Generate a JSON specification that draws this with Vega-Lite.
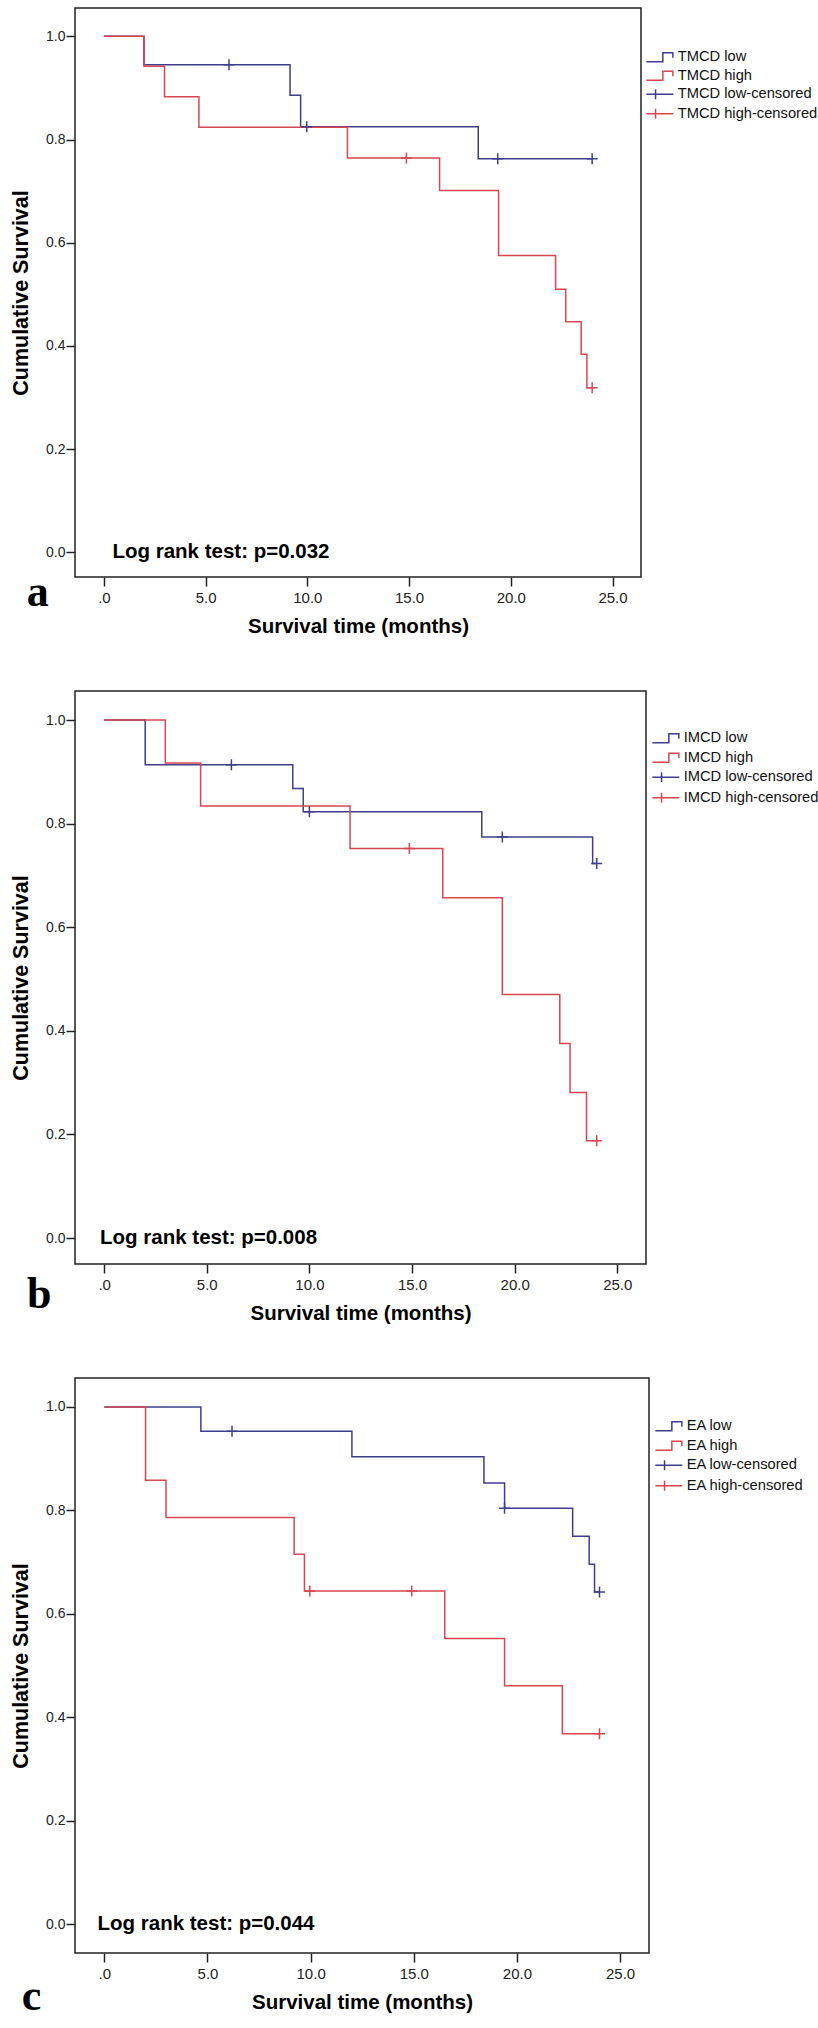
{
  "$schema": "https://vega.github.io/schema/vega-lite/v6.json",
  "background": "white",
  "padding": {"left": 9, "top": 7, "right": 0, "bottom": 0},
  "spacing": 52,
  "align": "each",
  "resolve": {"scale": {"color": "independent"}, "legend": {"color": "independent"}},
  "config": {
    "view": {"stroke": "#222", "strokeWidth": 1.5},
    "axis": {"grid": false, "domain": false, "tickSize": 9, "tickWidth": 1.5, "tickColor": "#222", "labelFont": "Liberation Sans", "labelColor": "#222", "titleFont": "Liberation Sans", "titleFontWeight": "bold", "titleColor": "#000"},
    "axisX": {"labelFontSize": 15, "labelPadding": 4, "titleFontSize": 20.5, "titlePadding": 11},
    "axisY": {"labelFontSize": 14, "labelPadding": 1, "titleFontSize": 21.5, "titlePadding": 13},
    "legend": {"title": null, "orient": "none", "symbolSize": 100, "symbolStrokeWidth": 1.5, "labelFont": "Liberation Sans", "labelFontSize": 14.7, "labelColor": "#111", "labelOffset": 19, "rowPadding": 3.5, "padding": 0}
  },
  "vconcat": [
    {
      "width": 566, "height": 569,
      "data": {"values": [
        {"series": "TMCD low", "t": 0, "s": 1},
        {"series": "TMCD low", "t": 1.97, "s": 0.945},
        {"series": "TMCD low", "t": 9.15, "s": 0.886},
        {"series": "TMCD low", "t": 9.67, "s": 0.825},
        {"series": "TMCD low", "t": 18.4, "s": 0.763},
        {"series": "TMCD low", "t": 24.0, "s": 0.763},
        {"series": "TMCD high", "t": 0, "s": 1},
        {"series": "TMCD high", "t": 1.97, "s": 0.942},
        {"series": "TMCD high", "t": 2.98, "s": 0.883},
        {"series": "TMCD high", "t": 4.67, "s": 0.824},
        {"series": "TMCD high", "t": 11.97, "s": 0.764},
        {"series": "TMCD high", "t": 16.5, "s": 0.701},
        {"series": "TMCD high", "t": 19.4, "s": 0.575},
        {"series": "TMCD high", "t": 22.2, "s": 0.510},
        {"series": "TMCD high", "t": 22.7, "s": 0.447},
        {"series": "TMCD high", "t": 23.46, "s": 0.384},
        {"series": "TMCD high", "t": 23.74, "s": 0.319},
        {"series": "TMCD high", "t": 24.0, "s": 0.319},
        {"series": "TMCD low-censored", "t": 6.15, "s": 0.945},
        {"series": "TMCD low-censored", "t": 9.97, "s": 0.825},
        {"series": "TMCD low-censored", "t": 19.36, "s": 0.763},
        {"series": "TMCD low-censored", "t": 24.0, "s": 0.763},
        {"series": "TMCD high-censored", "t": 14.87, "s": 0.764},
        {"series": "TMCD high-censored", "t": 24.0, "s": 0.319}
      ]},
      "layer": [
        {"transform": [{"filter": "indexof(datum.series, 'censored') < 0"}],
          "mark": {"type": "line", "interpolate": "step-after", "strokeWidth": 1.5},
          "encoding": {
            "x": {"field": "t", "type": "quantitative", "scale": {"domain": [-1.42, 26.4], "nice": false, "zero": false},
              "axis": {"values": [0, 5, 10, 15, 20, 25], "labelExpr": "datum.value == 0 ? '.0' : format(datum.value, '.1f')"},
              "title": "Survival time (months)"},
            "y": {"field": "s", "type": "quantitative", "scale": {"domain": [-0.048, 1.055], "nice": false, "zero": false},
              "axis": {"values": [0, 0.2, 0.4, 0.6, 0.8, 1.0], "format": ".1f"},
              "title": "Cumulative Survival"},
            "color": {"field": "series", "type": "nominal",
              "scale": {"domain": ["TMCD low", "TMCD high", "TMCD low-censored", "TMCD high-censored"], "range": ["#3E3F8C", "#D8474F", "#3E3F8C", "#D8474F"]},
              "legend": {"legendX": 569, "legendY": 42, "rowPadding": 2.5,
                "encode": {"symbols": {"update": {"fill": {"value": "transparent"}, "shape": {"signal": "indexof(datum.value, 'censored') >= 0 ? 'M-1,0H4.4M0.84,-1V1' : 'M-1,0.9H2.3V-0.9H4.3V0.1'"}}}}}}
          }},
        {"transform": [{"filter": "indexof(datum.series, 'censored') >= 0"}],
          "mark": {"type": "point", "shape": "M-1,0H1M0,-1V1", "size": 121, "filled": false, "strokeWidth": 1.5, "opacity": 1},
          "encoding": {
            "x": {"field": "t", "type": "quantitative"},
            "y": {"field": "s", "type": "quantitative"},
            "color": {"field": "series", "type": "nominal"}
          }},
        {"data": {"values": [{"label": "Log rank test: p=0.032"}]},
          "mark": {"type": "text", "align": "left", "baseline": "middle", "font": "Liberation Sans", "fontWeight": "bold", "fontSize": 20.5, "fill": "#000"},
          "encoding": {"x": {"datum": 0.42, "type": "quantitative"}, "y": {"datum": 0, "type": "quantitative"}, "text": {"field": "label", "type": "nominal"}}},
        {"data": {"values": [{"label": "a"}]},
          "mark": {"type": "text", "align": "left", "baseline": "alphabetic", "font": "Liberation Serif", "fontWeight": "bold", "fontSize": 44, "fill": "#000"},
          "encoding": {"x": {"datum": -3.79, "type": "quantitative"}, "y": {"datum": -0.105, "type": "quantitative"}, "text": {"field": "label", "type": "nominal"}}}
      ]
    },
    {
      "width": 571, "height": 573,
      "data": {"values": [
        {"series": "IMCD low", "t": 0, "s": 1},
        {"series": "IMCD low", "t": 2.0, "s": 0.9135},
        {"series": "IMCD low", "t": 9.19, "s": 0.868},
        {"series": "IMCD low", "t": 9.7, "s": 0.823},
        {"series": "IMCD low", "t": 18.4, "s": 0.774},
        {"series": "IMCD low", "t": 23.8, "s": 0.723},
        {"series": "IMCD low", "t": 24.0, "s": 0.723},
        {"series": "IMCD high", "t": 0, "s": 1},
        {"series": "IMCD high", "t": 2.98, "s": 0.917},
        {"series": "IMCD high", "t": 4.7, "s": 0.834},
        {"series": "IMCD high", "t": 11.98, "s": 0.752},
        {"series": "IMCD high", "t": 16.5, "s": 0.657},
        {"series": "IMCD high", "t": 19.4, "s": 0.470},
        {"series": "IMCD high", "t": 22.2, "s": 0.3755},
        {"series": "IMCD high", "t": 22.7, "s": 0.281},
        {"series": "IMCD high", "t": 23.5, "s": 0.188},
        {"series": "IMCD high", "t": 24.0, "s": 0.188},
        {"series": "IMCD low-censored", "t": 6.2, "s": 0.9135},
        {"series": "IMCD low-censored", "t": 10.0, "s": 0.823},
        {"series": "IMCD low-censored", "t": 19.4, "s": 0.774},
        {"series": "IMCD low-censored", "t": 24.0, "s": 0.723},
        {"series": "IMCD high-censored", "t": 14.87, "s": 0.752},
        {"series": "IMCD high-censored", "t": 24.0, "s": 0.188}
      ]},
      "layer": [
        {"transform": [{"filter": "indexof(datum.series, 'censored') < 0"}],
          "mark": {"type": "line", "interpolate": "step-after", "strokeWidth": 1.5},
          "encoding": {
            "x": {"field": "t", "type": "quantitative", "scale": {"domain": [-1.42, 26.4], "nice": false, "zero": false},
              "axis": {"values": [0, 5, 10, 15, 20, 25], "labelExpr": "datum.value == 0 ? '.0' : format(datum.value, '.1f')"},
              "title": "Survival time (months)"},
            "y": {"field": "s", "type": "quantitative", "scale": {"domain": [-0.05, 1.056], "nice": false, "zero": false},
              "axis": {"values": [0, 0.2, 0.4, 0.6, 0.8, 1.0], "format": ".1f"},
              "title": "Cumulative Survival"},
            "color": {"field": "series", "type": "nominal",
              "scale": {"domain": ["IMCD low", "IMCD high", "IMCD low-censored", "IMCD high-censored"], "range": ["#3E3F8C", "#D8474F", "#3E3F8C", "#D8474F"]},
              "legend": {"legendX": 575, "legendY": 40,
                "encode": {"symbols": {"update": {"fill": {"value": "transparent"}, "shape": {"signal": "indexof(datum.value, 'censored') >= 0 ? 'M-1,0H4.4M0.84,-1V1' : 'M-1,0.9H2.3V-0.9H4.3V0.1'"}}}}}}
          }},
        {"transform": [{"filter": "indexof(datum.series, 'censored') >= 0"}],
          "mark": {"type": "point", "shape": "M-1,0H1M0,-1V1", "size": 121, "filled": false, "strokeWidth": 1.5, "opacity": 1},
          "encoding": {
            "x": {"field": "t", "type": "quantitative"},
            "y": {"field": "s", "type": "quantitative"},
            "color": {"field": "series", "type": "nominal"}
          }},
        {"data": {"values": [{"label": "Log rank test: p=0.008"}]},
          "mark": {"type": "text", "align": "left", "baseline": "middle", "font": "Liberation Sans", "fontWeight": "bold", "fontSize": 20.5, "fill": "#000"},
          "encoding": {"x": {"datum": -0.2, "type": "quantitative"}, "y": {"datum": 0, "type": "quantitative"}, "text": {"field": "label", "type": "nominal"}}},
        {"data": {"values": [{"label": "b"}]},
          "mark": {"type": "text", "align": "left", "baseline": "alphabetic", "font": "Liberation Serif", "fontWeight": "bold", "fontSize": 44, "fill": "#000"},
          "encoding": {"x": {"datum": -3.76, "type": "quantitative"}, "y": {"datum": -0.134, "type": "quantitative"}, "text": {"field": "label", "type": "nominal"}}}
      ]
    },
    {
      "width": 574, "height": 575,
      "data": {"values": [
        {"series": "EA low", "t": 0, "s": 1},
        {"series": "EA low", "t": 4.68, "s": 0.953},
        {"series": "EA low", "t": 12.0, "s": 0.9035},
        {"series": "EA low", "t": 18.4, "s": 0.853},
        {"series": "EA low", "t": 19.4, "s": 0.804},
        {"series": "EA low", "t": 22.7, "s": 0.750},
        {"series": "EA low", "t": 23.5, "s": 0.696},
        {"series": "EA low", "t": 23.76, "s": 0.642},
        {"series": "EA low", "t": 24.0, "s": 0.642},
        {"series": "EA high", "t": 0, "s": 1},
        {"series": "EA high", "t": 2.0, "s": 0.8585},
        {"series": "EA high", "t": 2.99, "s": 0.786},
        {"series": "EA high", "t": 9.2, "s": 0.715},
        {"series": "EA high", "t": 9.7, "s": 0.644},
        {"series": "EA high", "t": 16.5, "s": 0.552},
        {"series": "EA high", "t": 19.4, "s": 0.461},
        {"series": "EA high", "t": 22.2, "s": 0.368},
        {"series": "EA high", "t": 24.0, "s": 0.368},
        {"series": "EA low-censored", "t": 6.19, "s": 0.953},
        {"series": "EA low-censored", "t": 19.4, "s": 0.804},
        {"series": "EA low-censored", "t": 24.0, "s": 0.642},
        {"series": "EA high-censored", "t": 9.96, "s": 0.644},
        {"series": "EA high-censored", "t": 14.9, "s": 0.644},
        {"series": "EA high-censored", "t": 24.0, "s": 0.368}
      ]},
      "layer": [
        {"transform": [{"filter": "indexof(datum.series, 'censored') < 0"}],
          "mark": {"type": "line", "interpolate": "step-after", "strokeWidth": 1.5},
          "encoding": {
            "x": {"field": "t", "type": "quantitative", "scale": {"domain": [-1.42, 26.4], "nice": false, "zero": false},
              "axis": {"values": [0, 5, 10, 15, 20, 25], "labelExpr": "datum.value == 0 ? '.0' : format(datum.value, '.1f')"},
              "title": "Survival time (months)"},
            "y": {"field": "s", "type": "quantitative", "scale": {"domain": [-0.056, 1.056], "nice": false, "zero": false},
              "axis": {"values": [0, 0.2, 0.4, 0.6, 0.8, 1.0], "format": ".1f"},
              "title": "Cumulative Survival"},
            "color": {"field": "series", "type": "nominal",
              "scale": {"domain": ["EA low", "EA high", "EA low-censored", "EA high-censored"], "range": ["#3E3F8C", "#D8474F", "#3E3F8C", "#D8474F"]},
              "legend": {"legendX": 578, "legendY": 41,
                "encode": {"symbols": {"update": {"fill": {"value": "transparent"}, "shape": {"signal": "indexof(datum.value, 'censored') >= 0 ? 'M-1,0H4.4M0.84,-1V1' : 'M-1,0.9H2.3V-0.9H4.3V0.1'"}}}}}}
          }},
        {"transform": [{"filter": "indexof(datum.series, 'censored') >= 0"}],
          "mark": {"type": "point", "shape": "M-1,0H1M0,-1V1", "size": 121, "filled": false, "strokeWidth": 1.5, "opacity": 1},
          "encoding": {
            "x": {"field": "t", "type": "quantitative"},
            "y": {"field": "s", "type": "quantitative"},
            "color": {"field": "series", "type": "nominal"}
          }},
        {"data": {"values": [{"label": "Log rank test: p=0.044"}]},
          "mark": {"type": "text", "align": "left", "baseline": "middle", "font": "Liberation Sans", "fontWeight": "bold", "fontSize": 20.5, "fill": "#000"},
          "encoding": {"x": {"datum": -0.33, "type": "quantitative"}, "y": {"datum": 0, "type": "quantitative"}, "text": {"field": "label", "type": "nominal"}}},
        {"data": {"values": [{"label": "c"}]},
          "mark": {"type": "text", "align": "left", "baseline": "alphabetic", "font": "Liberation Serif", "fontWeight": "bold", "fontSize": 44, "fill": "#000"},
          "encoding": {"x": {"datum": -4.0, "type": "quantitative"}, "y": {"datum": -0.166, "type": "quantitative"}, "text": {"field": "label", "type": "nominal"}}}
      ]
    }
  ]
}
